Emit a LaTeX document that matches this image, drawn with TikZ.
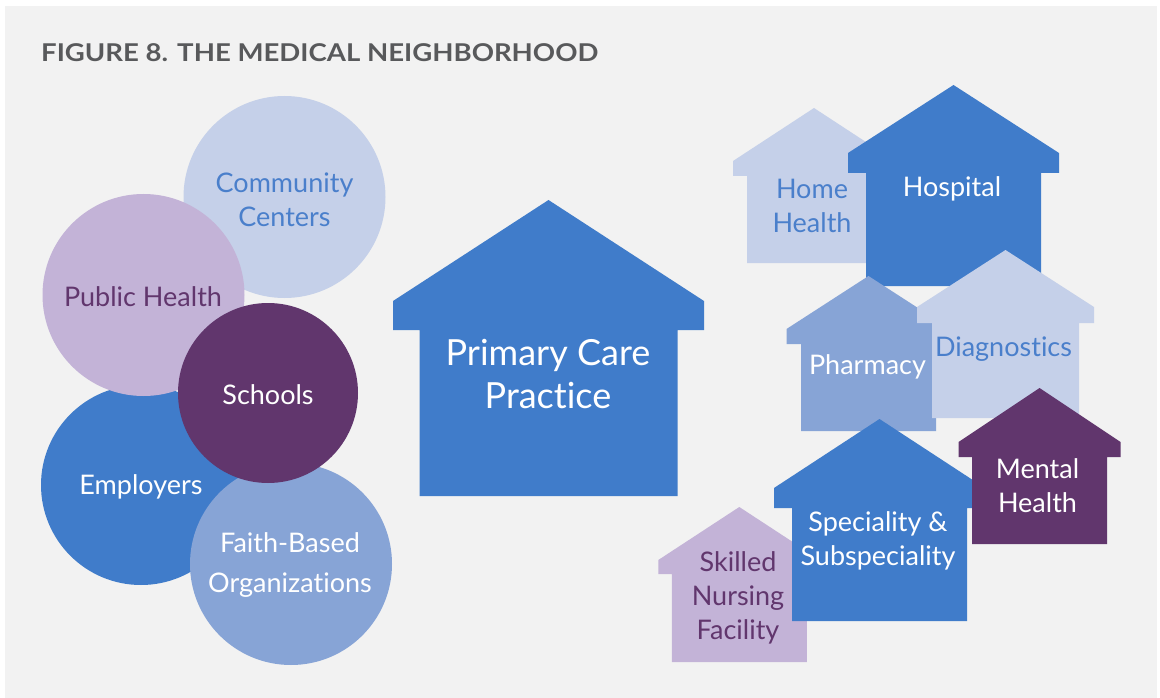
\documentclass[tikz,border=0pt]{standalone}
\usepackage{fontspec}
\setmainfont{Lato}[Ligatures=NoCommon]
\definecolor{bgpanel}{HTML}{F2F2F2}
\definecolor{paleblue}{HTML}{C5D0E9}
\definecolor{lavender}{HTML}{C3B3D7}
\definecolor{plum}{HTML}{61366D}
\definecolor{mainblue}{HTML}{407CCA}
\definecolor{midblue}{HTML}{87A4D6}
\definecolor{labelblue}{HTML}{4A7FCB}
\definecolor{titlegray}{HTML}{58595B}
\newcommand{\mhouse}[8]{% cx, apex, eaveHalf, eaveTop, eaveBot, wallHalf, bottom, colour
  \fill[#8] (#1,#2) -- ({#1-#3},#4) -- ({#1-#3},#5) -- ({#1-#6},#5) -- ({#1-#6},#7)
    -- ({#1+#6},#7) -- ({#1+#6},#5) -- ({#1+#3},#5) -- ({#1+#3},#4) -- cycle;}
\tikzset{
  lbl/.style={align=center, inner sep=0pt, font=\fontsize{27}{34}\selectfont},
  bigl/.style={align=center, inner sep=0pt, font=\fontsize{36}{43}\selectfont},
  disc/.style={circle, inner sep=0pt, minimum size=#1}
}
\begin{document}
\begin{tikzpicture}[x=1pt,y=-1pt]
\useasboundingbox (0,0) rectangle (1160,698);
\fill[white] (0,0) rectangle (1160,698);
\fill[bgpanel] (5,6) rectangle (1157,698);

\node[anchor=west, inner sep=0pt, text=titlegray, font=\fontsize{24.5}{28}\selectfont\bfseries] (title) at (41,53) {\scalebox{1.125}[1]{FIGURE 8. THE MEDICAL NEIGHBORHOOD}};

% circles
\node[disc=202pt, fill=paleblue] (community) at (284.5,197) {};
\node[disc=200pt, fill=mainblue] (employers) at (141,485) {};
\node[disc=202pt, fill=lavender] (public) at (143.5,295) {};
\node[disc=202pt, fill=midblue] (faith) at (291,564) {};
\node[disc=180pt, fill=plum] (schools) at (268,393) {};

\node[lbl, text=labelblue] (communitytext) at (284.5,200) {Community\\Centers};
\node[lbl, text=white] (employerstext) at (141,487) {Employers};
\node[lbl, text=plum] (publictext) at (143,297) {Public Health};
\node[lbl, text=white, font=\fontsize{27}{40}\selectfont] (faithtext) at (290,565.5) {Faith-Based\\Organizations};
\node[lbl, text=white] (schoolstext) at (268,395) {Schools};

% primary care house
\mhouse{548.5}{200}{155.5}{301}{330}{129}{496}{mainblue}
\node[bigl, text=white] (primary) at (548,374.5) {Primary Care\\Practice};

% right cluster
\mhouse{814}{108}{81}{161}{176}{67}{263}{paleblue}
\mhouse{953.5}{85}{105.5}{153}{173}{87.5}{286}{mainblue}
\mhouse{868.5}{276}{82}{329}{344}{67.5}{431}{midblue}
\mhouse{1005.5}{250}{88.5}{307}{323}{73.5}{418}{paleblue}
\mhouse{739.3}{507}{81}{560}{574}{67.5}{662}{lavender}
\mhouse{879.5}{419}{105.5}{488}{508}{87.5}{621}{mainblue}
\mhouse{1039.5}{388}{81}{442}{457}{67.5}{544}{plum}

\node[lbl, text=labelblue] (home) at (812,205.5) {Home\\Health};
\node[lbl, text=white] (hospital) at (952,189) {Hospital};
\node[lbl, text=white] (pharmacy) at (867.5,367) {Pharmacy};
\node[lbl, text=labelblue] (diag) at (1003.5,349) {Diagnostics};
\node[lbl, text=plum] (skilled) at (738,598) {Skilled\\Nursing\\Facility};
\node[lbl, text=white] (spec) at (878,541) {Speciality \&\\Subspeciality};
\node[lbl, text=white] (mental) at (1037.5,486) {Mental\\Health};
\end{tikzpicture}
\end{document}
